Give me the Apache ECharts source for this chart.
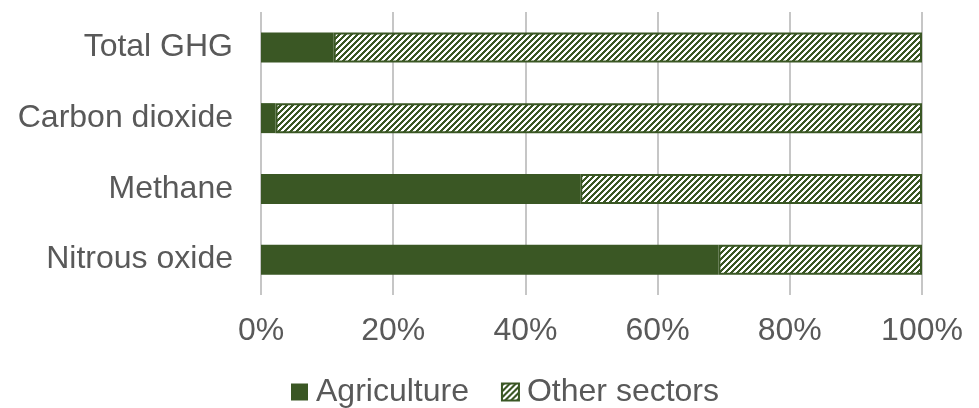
<!DOCTYPE html>
<html>
<head>
<meta charset="utf-8">
<script src="https://cdn.jsdelivr.net/npm/echarts@6/dist/echarts.min.js"></script>
<style>
html,body{margin:0;padding:0;background:#fff;}
#chart{width:979px;height:408px;}
</style>
</head>
<body>
<div id="chart"></div>
<script>
var categories = ['Total GHG', 'Carbon dioxide', 'Methane', 'Nitrous oxide'];
var agriculture = [11, 2.2, 48.3, 69.2];
var otherSectors = [89, 97.8, 51.7, 30.8];
var seriesNames = ['Agriculture', 'Other sectors'];
var tickLabels = ['0%', '20%', '40%', '60%', '80%', '100%'];

var green = '#3a5724';

function makePattern() {
  var n = 6;
  var c = document.createElement('canvas');
  c.width = n; c.height = n;
  var ctx = c.getContext('2d');
  ctx.fillStyle = '#ffffff';
  ctx.fillRect(0, 0, n, n);
  ctx.fillStyle = green;
  for (var x = 0; x < n; x++) {
    for (var y = 0; y < n; y++) {
      if ((x + y) % n < 3) ctx.fillRect(x, y, 1, 1);
    }
  }
  return c;
}

var chart = echarts.init(document.getElementById('chart'), null, {renderer: 'canvas'});
var font = '"Liberation Sans", Arial, sans-serif';
chart.setOption({
  animation: false,
  textStyle: {fontFamily: font},
  grid: {left: 261, right: 57, top: 12, bottom: 113, containLabel: false},
  legend: {
    bottom: -5,
    left: 286,
    icon: 'rect',
    itemWidth: 17, itemHeight: 17, itemGap: 32,
    textStyle: {fontSize: 32, color: '#595959', fontFamily: font, padding: [0, 0, 0, 3]},
    data: seriesNames
  },
  xAxis: {
    type: 'value', min: 0, max: 100, interval: 20,
    axisLine: {show: false}, axisTick: {show: false},
    splitLine: {lineStyle: {color: '#c6c6c6', width: 2}},
    axisLabel: {
      fontSize: 32, color: '#595959', margin: 20,
      formatter: function (v) { return tickLabels[Math.round(v / 20)]; }
    }
  },
  yAxis: {
    type: 'category', inverse: true, data: categories,
    axisLine: {show: false}, axisTick: {show: false},
    axisLabel: {fontSize: 32, color: '#595959', margin: 28}
  },
  series: [
    {
      name: seriesNames[0], type: 'bar', stack: 'a', barWidth: 30,
      data: agriculture,
      itemStyle: {color: green}
    },
    {
      name: seriesNames[1], type: 'bar', stack: 'a', barWidth: 30,
      data: otherSectors,
      itemStyle: {color: {image: makePattern(), repeat: 'repeat'}, borderColor: green, borderWidth: 2}
    }
  ]
});
</script>
</body>
</html>
